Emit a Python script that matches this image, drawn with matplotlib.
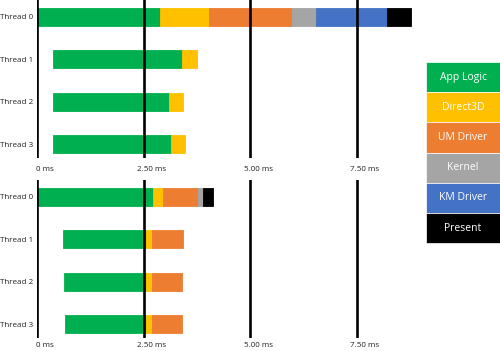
import matplotlib.pyplot as plt
from matplotlib.patches import Rectangle
from matplotlib.transforms import blended_transform_factory

# stages (legend order) and their colours
stages = ["App Logic", "Direct3D", "UM Driver", "Kernel", "KM Driver", "Present"]
colors = ["#00B050", "#FFC000", "#ED7D31", "#A5A5A5", "#4472C4", "#000000"]

threads = ["Thread 0", "Thread 1", "Thread 2", "Thread 3"]
tick_values = [0, 2.5, 5.0, 7.5]
tick_labels = ["0 ms", "2.50 ms", "5.00 ms", "7.50 ms"]

# top panel: start time (ms) and duration per stage (ms)
top_start = [0.0, 0.375, 0.38, 0.38]
top_durations = [
    [2.89, 1.14, 1.95, 0.56, 1.66, 0.57],
    [3.02, 0.35, 0, 0, 0, 0],
    [2.71, 0.33, 0, 0, 0, 0],
    [2.76, 0.34, 0, 0, 0, 0],
]

# bottom panel
bottom_start = [0.0, 0.62, 0.64, 0.65]
bottom_durations = [
    [2.73, 0.23, 0.82, 0.12, 0.0, 0.23],
    [1.93, 0.15, 0.71, 0, 0, 0],
    [1.92, 0.14, 0.70, 0, 0, 0],
    [1.91, 0.14, 0.70, 0, 0, 0],
]

FONT = "Open Sans"
W, H = 500, 351
PX_PER_MS = 42.67
X0 = 37  # pixel of 0 ms
AX_RIGHT = 440


def draw_panel(ax, starts, durations, label_y):
    for row, (start, durs) in enumerate(zip(starts, durations)):
        left = start
        for dur, col in zip(durs, colors):
            if dur <= 0:
                continue
            ax.barh(row, dur, left=left, height=0.43, color=col,
                    edgecolor=col, linewidth=0.6, zorder=2)
            left += dur
    for v in tick_values:
        ax.axvline(v, color="black", linewidth=1.9, zorder=3)
    trans = blended_transform_factory(ax.transData, ax.transAxes)
    for v, lab in zip(tick_values, tick_labels):
        ax.text(v + 0.18, label_y, lab, transform=trans, ha="center",
                va="center", fontsize=5.8, family=FONT, color="#222222")
    ax.set_xlim(0, (AX_RIGHT - X0) / PX_PER_MS)
    ax.set_ylim(3.33, -0.4)
    ax.set_yticks(range(len(threads)))
    ax.set_yticklabels(threads, fontsize=5.8, family=FONT, color="#222222")
    ax.tick_params(axis="y", length=0, pad=3)
    ax.set_xticks([])
    for s in ax.spines.values():
        s.set_visible(False)
    ax.patch.set_alpha(0)


fig = plt.figure(figsize=(W / 100, H / 100), dpi=100)

ax_top = fig.add_axes([X0 / W, 1 - 158 / H, (AX_RIGHT - X0) / W, 158 / H])
draw_panel(ax_top, top_start, top_durations, -0.075)

ax_bot = fig.add_axes([X0 / W, 1 - 338 / H, (AX_RIGHT - X0) / W, 158 / H])
draw_panel(ax_bot, bottom_start, bottom_durations, -0.05)

# legend as stacked coloured boxes
box_top, box_h = 62, 30.2
for i, (name, col) in enumerate(zip(stages, colors)):
    y = box_top + i * box_h
    fig.patches.append(Rectangle((426 / W, 1 - (y + box_h) / H), 74 / W, box_h / H,
                                 transform=fig.transFigure, facecolor=col,
                                 edgecolor="white", linewidth=0.5))
    fig.text(463 / W, 1 - (y + box_h / 2) / H, name, ha="center", va="center",
             fontsize=7.5, family=FONT, color="white")

fig.savefig("out.png", dpi=100)
